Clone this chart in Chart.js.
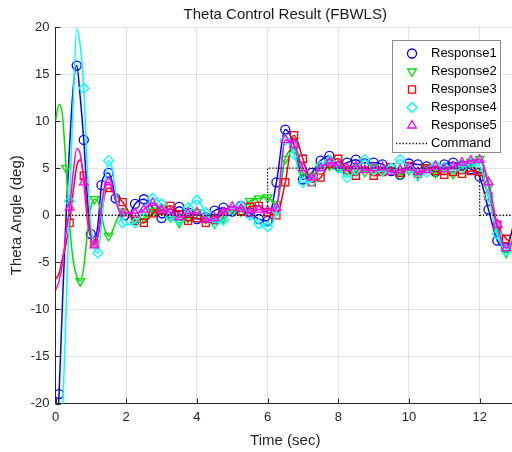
<!DOCTYPE html>
<html lang="en">
<head>
  <meta charset="UTF-8">
  <title>Theta Control Result</title>
  <script src="https://cdn.jsdelivr.net/npm/chart.js"></script>
  <style>
    html, body { margin: 0; padding: 0; background: #fff; overflow: hidden; }
    #wrap { width: 515px; height: 452px; }
    #thetaChart { display: block; }
  </style>
</head>
<body>
  <div id="wrap">
    <canvas id="thetaChart" width="515" height="452"></canvas>
  </div>

  <script>
    // sample times (sec): fine steps through the first transient, coarser afterwards
    const time = [0, 0.1, 0.2, 0.3, 0.4, 0.5, 0.6, 0.7, 0.8, 0.9, 1.0, 1.1, 1.2, 1.3, 1.4, 1.5, 1.6, 1.7, 1.8, 1.9, 2.0,
      2.25, 2.5, 2.75, 3.0, 3.25, 3.5, 3.75, 4.0, 4.25, 4.5, 4.75, 5.0, 5.25, 5.5, 5.75, 6.0,
      6.25, 6.5, 6.75, 7.0, 7.25, 7.5, 7.75, 8.0, 8.25, 8.5, 8.75, 9.0, 9.25, 9.5, 9.75, 10.0,
      10.25, 10.5, 10.75, 11.0, 11.25, 11.5, 11.75, 12.0, 12.25, 12.5, 12.75, 13.0];

    // theta angle (deg) for each run
    const resp1 = [-26, -19, -9, 0, 7.5, 13.5, 15.9, 12.5, 8.0, 2.0, -2.0, -2.8, -1.0, 3.2, 4.3, 4.5, 3.6, 1.8, 0.5, -0.3, -0.5,
      1.2, 1.7, 0.8, -0.3, 0.2, 0.9, 0.3, -0.4, -0.2, 0.5, 0.8, 0.4, 1.0, 0.3, -0.4, -0.6,
      3.5, 9.1, 7.5, 3.8, 4.5, 5.8, 6.3, 5.2, 5.6, 5.9, 5.5, 5.6, 5.4, 4.7, 4.3, 5.5,
      5.4, 5.2, 4.6, 5.4, 5.6, 5.3, 4.9, 4.1, 0.6, -2.7, -3.4, -0.4];
    const resp2 = [10, 11.8, 10.5, 5.0, -1.0, -4.8, -6.5, -7.0, -5.5, -2.0, 0.8, 1.7, 1.5, 0, -1.6, -2.2, -1.8, -0.8, 0, 0.4, 0.3,
      -0.5, -0.3, 0.5, 0.8, -0.2, -0.8, -0.3, 0.3, -0.4, -0.9, -0.3, 0.6, 0.4, 1.5, 1.8, 1.9,
      1.2, 6.0, 7.0, 4.5, 4.2, 5.2, 5.3, 5.1, 4.8, 5.0, 4.6, 5.1, 4.8, 4.9, 4.3, 4.8,
      4.2, 5.0, 4.5, 4.9, 4.4, 5.4, 5.7, 6.0, 3.0, -1.5, -4.0, -2.2];
    const resp3 = [-6.8, -6.2, -4.5, -3.0, -0.8, 2.5, 5.2, 5.9, 4.2, 0.8, -2.0, -3.0, -2.3, 0, 2.3, 2.9, 2.7, 2.2, 1.8, 1.4, 0.8,
      -0.6, -0.8, 0.2, 0.5, 1.0, 0.1, -0.6, -0.3, -0.8, -0.5, 0.2, 0.6, 0.4, 0.9, 1.0, 0.3,
      0.0, 3.5, 8.5, 6.0, 3.5, 4.0, 5.5, 6.0, 4.8, 4.2, 5.2, 4.2, 4.6, 5.1, 4.5, 5.2,
      4.4, 5.0, 4.7, 4.3, 4.6, 4.4, 4.7, 4.6, 2.0, -1.0, -2.5, -3.0];
    const resp4 = [-32, -27, -21, -10, 1.5, 12, 19.8, 18.0, 13.5, 5.0, -1.0, -3.5, -4.0, -1.0, 3.5, 5.8, 5.0, 2.5, 0.3, -0.8, -1.0,
      -0.8, 0.5, 1.8, 1.2, -0.2, -0.5, 0.8, 1.6, 0.3, -0.8, -0.5, 0.5, 1.0, 0.0, -0.9, -1.2,
      0.5, 8.0, 6.5, 3.5, 3.6, 5.2, 5.8, 5.0, 4.0, 4.8, 5.9, 4.8, 4.7, 5.0, 5.9, 5.0,
      4.3, 4.6, 5.3, 5.1, 4.9, 5.0, 5.5, 5.2, 2.0, -2.0, -3.8, -1.5];
    const resp5 = [-8.0, -7.0, -5.0, -1.8, 0.8, 4.5, 7.1, 6.5, 3.5, -0.5, -2.5, -3.2, -2.0, 1.0, 3.2, 3.5, 2.8, 1.5, 0.5, 0.2, 0.3,
      0.2, 0.6, 1.3, 0.6, 0.3, -0.2, 0.2, 0.3, -0.5, -0.3, 0.3, 0.9, 0.7, 0.2, 0.6, 0.5,
      0.8, 8.0, 7.5, 5.0, 4.0, 5.0, 5.6, 5.3, 5.0, 5.2, 4.8, 5.0, 5.1, 4.6, 4.8, 5.1,
      4.6, 4.8, 5.2, 4.9, 5.2, 5.6, 5.8, 5.9, 3.5, -1.0, -3.5, -2.5];

    // step command: value holds until the next time
    const cmdTime = [0, 6, 12, 13];
    const cmdValue = [0, 5, 0, 0];

    const xTicks = [0, 2, 4, 6, 8, 10, 12];
    const yTicks = [-20, -15, -10, -5, 0, 5, 10, 15, 20];

    const FONT = "'Liberation Sans', Arial, Helvetica, sans-serif";
    const axisColor = '#262626';
    const gridColor = 'rgba(0,0,0,0.11)';
    Chart.defaults.font.family = FONT;

    // early: sample indices (t <= 2 s) that carry a marker; after 2 s every sample does
    const runs = [
      { label: 'Response1', values: resp1, color: '#0000ff', pointStyle: 'circle', rotation: 0, r: 4.5, early: [1, 6, 8, 10, 13, 15, 17] },
      { label: 'Response2', values: resp2, color: '#00e000', pointStyle: 'triangle', rotation: 180, r: 5, early: [3, 7, 11, 15, 19] },
      { label: 'Response3', values: resp3, color: '#ff0000', pointStyle: 'rect', rotation: 0, r: 5, early: [4, 8, 11, 15, 19] },
      { label: 'Response4', values: resp4, color: '#00ffff', pointStyle: 'rectRot', rotation: 0, r: 5, early: [4, 8, 12, 15, 19] },
      { label: 'Response5', values: resp5, color: '#ff00ff', pointStyle: 'triangle', rotation: 0, r: 5, early: [4, 8, 11, 15, 19] }
    ];

    // no marker on the final sample, so the plot box keeps its full width
    function markerRadius(run) {
      const marks = new Set(run.early);
      const last = time.length - 1;
      return ctx => {
        const i = ctx.dataIndex;
        if (i === last) return 0;
        return i <= 20 ? (marks.has(i) ? run.r : 0) : run.r;
      };
    }

    const datasets = runs.map((run, i) => ({
      label: run.label,
      data: time.map((t, k) => ({ x: t, y: run.values[k] })),
      borderColor: run.color,
      borderWidth: 1.5,
      pointStyle: run.pointStyle,
      pointRotation: run.rotation,
      pointRadius: markerRadius(run),
      pointBorderColor: run.color,
      pointBackgroundColor: 'rgba(0,0,0,0)',
      pointBorderWidth: 1.3,
      cubicInterpolationMode: 'monotone',
      order: 5 - i
    }));

    datasets.push({
      label: 'Command',
      data: cmdTime.map((t, k) => ({ x: t, y: cmdValue[k] })),
      borderColor: '#000',
      borderWidth: 1.3,
      borderDash: [1.3, 2],
      stepped: 'before',
      pointRadius: 0,
      order: 0
    });

    // centred title above the plot box
    const plotTitle = {
      id: 'plotTitle',
      afterDraw(chart) {
        const { ctx, chartArea } = chart;
        ctx.save();
        ctx.font = '15px ' + FONT;
        ctx.fillStyle = '#1a1a1a';
        ctx.textAlign = 'center';
        ctx.textBaseline = 'middle';
        ctx.fillText('Theta Control Result (FBWLS)', (chartArea.left + chartArea.right) / 2, 15);
        ctx.restore();
      }
    };

    // short tick marks pointing into the plot
    const innerTicks = {
      id: 'innerTicks',
      afterDatasetsDraw(chart) {
        const { ctx, chartArea, scales } = chart;
        ctx.save();
        ctx.strokeStyle = axisColor;
        ctx.lineWidth = 1;
        ctx.beginPath();
        xTicks.forEach(v => {
          const px = Math.round(scales.x.getPixelForValue(v)) + 0.5;
          ctx.moveTo(px, chartArea.bottom);
          ctx.lineTo(px, chartArea.bottom - 5);
        });
        yTicks.forEach(v => {
          const py = Math.round(scales.y.getPixelForValue(v)) + 0.5;
          ctx.moveTo(chartArea.left, py);
          ctx.lineTo(chartArea.left + 5, py);
        });
        ctx.stroke();
        ctx.restore();
      }
    };

    // boxed legend in the upper right corner
    const legendBox = {
      id: 'legendBox',
      afterDraw(chart) {
        const ctx = chart.ctx;
        const x0 = 392, y0 = 40, w = 108, h = 112, rowH = 18;
        ctx.save();
        ctx.fillStyle = '#fff';
        ctx.fillRect(x0, y0, w, h);
        ctx.strokeStyle = '#8a8a8a';
        ctx.lineWidth = 1;
        ctx.strokeRect(x0 + 0.5, y0 + 0.5, w, h);
        ctx.font = '13px ' + FONT;
        ctx.textBaseline = 'middle';
        chart.data.datasets.forEach((ds, i) => {
          const y = y0 + 13.5 + i * rowH;
          if (i < runs.length) {
            ctx.strokeStyle = ds.borderColor;
            ctx.fillStyle = 'rgba(0,0,0,0)';
            ctx.lineWidth = 1.3;
            Chart.helpers.drawPoint(ctx, {
              pointStyle: ds.pointStyle, rotation: ds.pointRotation, radius: runs[i].r, borderWidth: 1.3
            }, x0 + 20, y);
          } else {
            ctx.strokeStyle = '#000';
            ctx.lineWidth = 1.3;
            ctx.setLineDash([1.3, 2]);
            ctx.beginPath();
            ctx.moveTo(x0 + 4, y);
            ctx.lineTo(x0 + 36, y);
            ctx.stroke();
            ctx.setLineDash([]);
          }
          ctx.fillStyle = '#000';
          ctx.fillText(ds.label, x0 + 39, y);
        });
        ctx.restore();
      }
    };

    new Chart(document.getElementById('thetaChart'), {
      type: 'line',
      data: { datasets: datasets },
      plugins: [innerTicks, plotTitle, legendBox],
      options: {
        responsive: false,
        maintainAspectRatio: false,
        animation: false,
        layout: { padding: { top: 27, left: 0, right: 0, bottom: 0 } },
        plugins: {
          legend: { display: false },
          title: { display: false },
          tooltip: { enabled: false }
        },
        scales: {
          x: {
            type: 'linear',
            min: 0,
            max: 13,
            afterBuildTicks: s => { s.ticks = xTicks.map(v => ({ value: v })); },
            afterFit: s => { s.height = 48.5; },
            grid: { color: gridColor, drawTicks: false },
            border: { color: axisColor, width: 1 },
            ticks: { color: axisColor, font: { size: 13 }, padding: 6, maxRotation: 0, autoSkip: false },
            title: { display: true, text: 'Time (sec)', color: axisColor, font: { size: 15 }, padding: { top: 0, bottom: 2 } }
          },
          y: {
            type: 'linear',
            min: -20,
            max: 20,
            afterBuildTicks: s => { s.ticks = yTicks.map(v => ({ value: v })); },
            afterFit: s => { s.width = 55.5; },
            grid: { color: gridColor, drawTicks: false },
            border: { color: axisColor, width: 1 },
            ticks: { color: axisColor, font: { size: 13 }, padding: 6, autoSkip: false },
            title: { display: true, text: 'Theta Angle (deg)', color: axisColor, font: { size: 15 }, padding: { top: 8, bottom: 0 } }
          }
        }
      }
    });
  </script>
</body>
</html>
